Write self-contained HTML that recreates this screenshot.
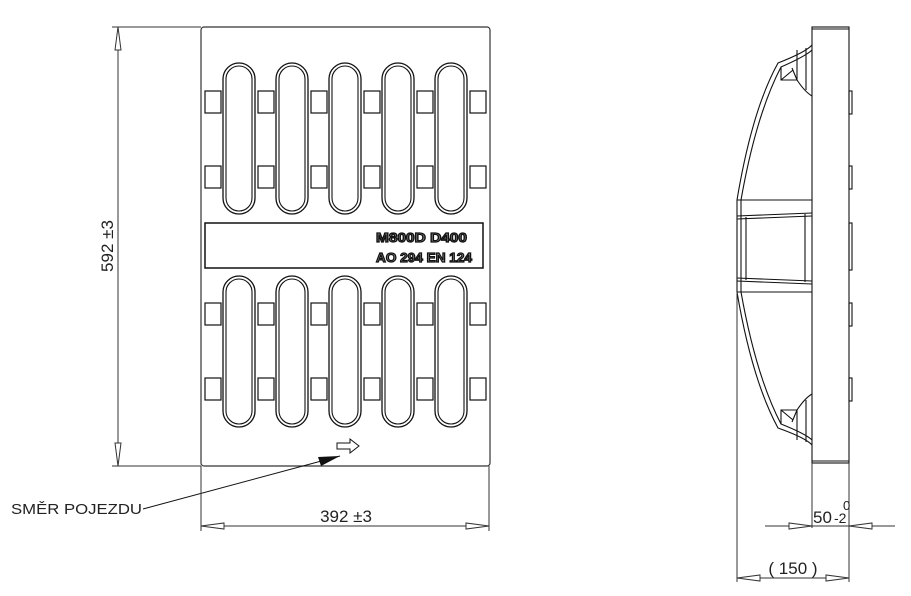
<!DOCTYPE html>
<html><head><meta charset="utf-8"><style>
html,body{margin:0;padding:0;background:#fff;width:911px;height:596px;overflow:hidden}
svg{display:block}
text{font-family:"Liberation Sans",sans-serif;fill:#222}
</style></head><body>
<svg width="911" height="596" viewBox="0 0 911 596" xmlns="http://www.w3.org/2000/svg">
<defs>
<g id="slot" fill="none" stroke="#111">
<rect x="0" y="0" width="32" height="151" rx="16" stroke-width="1.3"/>
<rect x="3" y="3" width="26" height="145" rx="13" stroke-width="1.1"/>
</g>
<g id="sq"><rect x="0" y="0" width="16" height="22" fill="none" stroke="#111" stroke-width="1.2"/></g>
</defs>

<rect x="201" y="27" width="289" height="439" rx="3" fill="none" stroke="#333" stroke-width="1.2"/>

<use href="#slot" x="223" y="63"/><use href="#slot" x="276" y="63"/><use href="#slot" x="329" y="63"/><use href="#slot" x="382" y="63"/><use href="#slot" x="435" y="63"/>
<use href="#slot" x="223" y="276"/><use href="#slot" x="276" y="276"/><use href="#slot" x="329" y="276"/><use href="#slot" x="382" y="276"/><use href="#slot" x="435" y="276"/>

<g>
<use href="#sq" x="205" y="91"/><use href="#sq" x="258" y="91"/><use href="#sq" x="311" y="91"/><use href="#sq" x="364" y="91"/><use href="#sq" x="417" y="91"/><use href="#sq" x="470" y="91"/>
<use href="#sq" x="205" y="166"/><use href="#sq" x="258" y="166"/><use href="#sq" x="311" y="166"/><use href="#sq" x="364" y="166"/><use href="#sq" x="417" y="166"/><use href="#sq" x="470" y="166"/>
<use href="#sq" x="205" y="303"/><use href="#sq" x="258" y="303"/><use href="#sq" x="311" y="303"/><use href="#sq" x="364" y="303"/><use href="#sq" x="417" y="303"/><use href="#sq" x="470" y="303"/>
<use href="#sq" x="205" y="378"/><use href="#sq" x="258" y="378"/><use href="#sq" x="311" y="378"/><use href="#sq" x="364" y="378"/><use href="#sq" x="417" y="378"/><use href="#sq" x="470" y="378"/>
</g>

<rect x="205" y="223" width="278" height="45" fill="none" stroke="#111" stroke-width="1.5"/>
<text x="376" y="242" font-size="13" font-weight="bold" textLength="91" lengthAdjust="spacingAndGlyphs" style="fill:#888;stroke:#111;stroke-width:1.2">M800D  D400</text>
<text x="376" y="262" font-size="13" font-weight="bold" textLength="96" lengthAdjust="spacingAndGlyphs" style="fill:#888;stroke:#111;stroke-width:1.2">AO 294 EN 124</text>

<path d="M337 443 H350 V439 L359 446 L350 453 V449 H337 Z" fill="#fff" stroke="#111" stroke-width="1"/>

<line x1="143" y1="509" x2="340" y2="456" stroke="#111" stroke-width="1"/>
<path d="M340 456 L318 457 L321 466 Z" fill="#111"/>
<text x="11" y="514" font-size="15" textLength="131" lengthAdjust="spacingAndGlyphs">SMĚR  POJEZDU</text>

<g stroke="#333" stroke-width="1" fill="none">
<line x1="112" y1="27" x2="201" y2="27"/>
<line x1="112" y1="466" x2="201" y2="466"/>
<line x1="118" y1="27" x2="118" y2="466"/>
<path d="M118 27 L115 50 H121 Z" fill="#fff"/>
<path d="M118 466 L115 443 H121 Z" fill="#fff"/>
</g>
<text transform="translate(118,246) rotate(-90)" font-size="17" text-anchor="middle" dy="-5">592 ±3</text>

<g stroke="#333" stroke-width="1" fill="none">
<line x1="201" y1="466" x2="201" y2="531"/>
<line x1="489" y1="466" x2="489" y2="531"/>
<line x1="201" y1="526" x2="489" y2="526"/>
<path d="M201 526 L224 523 V529 Z" fill="#fff"/>
<path d="M489 526 L466 523 V529 Z" fill="#fff"/>
</g>
<text x="346" y="522" font-size="17" text-anchor="middle">392 ±3</text>

<g stroke="#111" stroke-width="1.1" fill="none">
<rect x="812" y="27" width="37" height="436"/>
<line x1="812" y1="29" x2="849" y2="29"/>
<line x1="812" y1="461" x2="849" y2="461"/>
<rect x="849" y="91" width="3" height="23"/><rect x="849" y="166" width="3" height="23"/>
<rect x="849" y="223" width="3" height="47"/>
<rect x="849" y="303" width="3" height="23"/><rect x="849" y="378" width="3" height="23"/>
<path d="M812 45 Q806 52 778 63 Q752 110 737 200"/>
<path d="M812 50 Q806 56 781 67 Q756 115 741 200"/>
<path d="M781 67 L781 80 L797 80 L792 68"/>
<path d="M781 80 L793 70"/>
<path d="M797 50 V80 Q805 92 812 96"/>
<path d="M806 48 V90"/>
<line x1="737" y1="200" x2="812" y2="200"/>
<path d="M737 216 L812 213 M737 219 L812 216"/>
<path d="M737 278 L812 281 M737 281 L812 284"/>
<line x1="737" y1="200" x2="737" y2="292"/>
<line x1="741" y1="200" x2="741" y2="292"/>
<line x1="746" y1="217" x2="746" y2="280"/>
<line x1="805" y1="214" x2="805" y2="282"/>
<line x1="737" y1="292" x2="812" y2="292"/>
<path d="M812 445 Q806 438 778 428 Q752 380 737 292"/>
<path d="M812 440 Q806 434 781 424 Q756 376 741 292"/>
<path d="M781 424 L781 410 L797 410 L792 422"/>
<path d="M781 410 L793 420"/>
<path d="M797 440 V410 Q805 398 812 394"/>
<path d="M806 442 V400"/>
</g>

<g stroke="#333" stroke-width="1" fill="none">
<line x1="737" y1="292" x2="737" y2="582"/>
<line x1="849" y1="463" x2="849" y2="582"/>
<line x1="812" y1="463" x2="812" y2="528"/>
<line x1="765" y1="526" x2="895" y2="526"/>
<path d="M812 526 L789 523 V529 Z" fill="#fff"/>
<path d="M849 526 L872 523 V529 Z" fill="#fff"/>
<line x1="737" y1="578" x2="849" y2="578"/>
<path d="M737 578 L760 575 V581 Z" fill="#fff"/>
<path d="M849 578 L826 575 V581 Z" fill="#fff"/>
</g>
<text x="813" y="523" font-size="17">50</text>
<text x="834" y="523" font-size="14">-2</text>
<text x="843" y="510" font-size="13">0</text>
<text x="793" y="574" font-size="17" text-anchor="middle">( 150 )</text>
</svg>
</body></html>
